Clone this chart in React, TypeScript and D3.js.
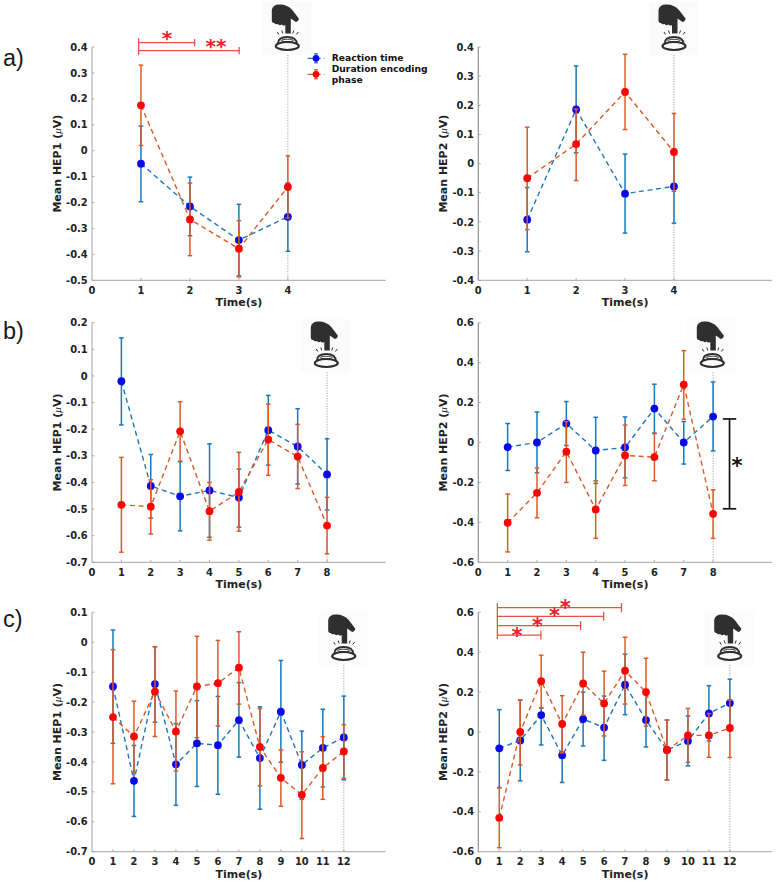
import React from "react";
import * as d3 from "d3";

// ---------- data (mean, upper whisker, lower whisker) ----------
const aLeftBlue = [-0.05, -0.215, -0.345, -0.255];
const aLeftBlueHi = [0.095, -0.102, -0.207, -0.125];
const aLeftBlueLo = [-0.197, -0.328, -0.483, -0.388];
const aLeftRed = [0.175, -0.265, -0.378, -0.14];
const aLeftRedHi = [0.33, -0.125, -0.27, -0.02];
const aLeftRedLo = [0.02, -0.405, -0.487, -0.26];

const aRightBlue = [-0.192, 0.186, -0.103, -0.078];
const aRightBlueHi = [-0.082, 0.335, 0.033, 0.05];
const aRightBlueLo = [-0.302, 0.037, -0.238, -0.204];
const aRightRed = [-0.05, 0.067, 0.246, 0.04];
const aRightRedHi = [0.125, 0.187, 0.375, 0.172];
const aRightRedLo = [-0.226, -0.058, 0.117, -0.095];

const bLeftBlue = [-0.02, -0.413, -0.452, -0.43, -0.457, -0.204, -0.265, -0.37];
const bLeftBlueHi = [0.143, -0.295, -0.322, -0.255, -0.35, -0.073, -0.123, -0.236];
const bLeftBlueLo = [-0.184, -0.534, -0.582, -0.606, -0.568, -0.335, -0.406, -0.504];
const bLeftRed = [-0.484, -0.491, -0.208, -0.508, -0.436, -0.239, -0.303, -0.562];
const bLeftRedHi = [-0.306, -0.39, -0.097, -0.4, -0.287, -0.106, -0.182, -0.456];
const bLeftRedLo = [-0.662, -0.594, -0.32, -0.617, -0.583, -0.373, -0.423, -0.668];

const bRightBlue = [-0.023, 0, 0.095, -0.04, -0.025, 0.17, 0, 0.13];
const bRightBlueHi = [0.095, 0.153, 0.205, 0.126, 0.128, 0.292, 0.105, 0.303];
const bRightBlueLo = [-0.14, -0.152, -0.015, -0.205, -0.177, 0.047, -0.108, -0.042];
const bRightRed = [-0.402, -0.252, -0.046, -0.335, -0.065, -0.073, 0.29, -0.357];
const bRightRedHi = [-0.258, -0.128, 0.105, -0.192, 0.087, 0.045, 0.46, -0.237];
const bRightRedLo = [-0.548, -0.377, -0.2, -0.48, -0.215, -0.192, 0.117, -0.48];

const cLeftBlue = [-0.148, -0.463, -0.14, -0.408, -0.338, -0.344, -0.26, -0.387, -0.232, -0.41, -0.353, -0.318];
const cLeftBlueHi = [0.041, -0.345, -0.015, -0.272, -0.195, -0.181, -0.135, -0.216, -0.061, -0.297, -0.224, -0.18];
const cLeftBlueLo = [-0.338, -0.582, -0.267, -0.545, -0.482, -0.508, -0.384, -0.558, -0.401, -0.525, -0.484, -0.46];
const cLeftRed = [-0.25, -0.315, -0.165, -0.298, -0.148, -0.137, -0.085, -0.35, -0.453, -0.51, -0.42, -0.365];
const cLeftRedHi = [-0.025, -0.197, -0.015, -0.163, 0.02, 0.006, 0.035, -0.222, -0.36, -0.366, -0.316, -0.276];
const cLeftRedLo = [-0.473, -0.435, -0.315, -0.43, -0.319, -0.28, -0.207, -0.48, -0.548, -0.656, -0.525, -0.455];

const cRightBlue = [-0.082, -0.042, 0.085, -0.117, 0.065, 0.022, 0.237, 0.06, -0.09, -0.045, 0.093, 0.145];
const cRightBlueHi = [0.112, 0.16, 0.12, 0.03, 0.2, 0.18, 0.39, 0.2, 0.06, 0.08, 0.232, 0.265];
const cRightBlueLo = [-0.278, -0.245, -0.065, -0.253, -0.07, -0.142, 0.087, -0.075, -0.24, -0.17, -0.045, 0.02];
const cRightRed = [-0.43, 0, 0.255, 0.04, 0.243, 0.143, 0.307, 0.2, -0.09, -0.017, -0.017, 0.02];
const cRightRedHi = [-0.28, 0.16, 0.385, 0.182, 0.4, 0.305, 0.475, 0.37, 0.06, 0.118, 0.092, 0.16];
const cRightRedLo = [-0.58, -0.165, 0.122, -0.105, 0.085, -0.02, 0.14, 0.03, -0.24, -0.152, -0.127, -0.128];

const legendLabels = ["Reaction time", "Duration encoding", "phase"];
const panelLetters = ["a)", "b)", "c)"];

// ---------- layout ----------
const BLUE_LINE = "#1b78bd";
const RED_LINE = "#dc5a28";
const BLUE_DOT = "#0a0ae6";
const RED_DOT = "#fb0505";
const BRACKET = "#e2553f";
const STAR = "#ee1c2e";
const TEXT = "#222222";
const AXIS = "#9a9a9a";
const FONT = "'DejaVu Sans', sans-serif";

type Series = { mean: number[]; hi: number[]; lo: number[] };
type Panel = {
  left: number; right: number; top: number; bottom: number;
  xMax: number; yMin: number; yMax: number; yStep: number; ylabel: string;
  blue: Series; red: Series; iconX: number; iconY: number;
};

const yTop = [47, 322.7, 612.3];
const yBot = [280.3, 562.3, 851.7];
const mk = (col: number, row: number, xMax: number, yMin: number, yMax: number, yStep: number, blue: Series, red: Series, iconX: number, iconY: number): Panel => ({
  left: col === 0 ? 92 : 478.3,
  right: col === 0 ? 385.8 : 771.8,
  top: yTop[row], bottom: yBot[row], xMax, yMin, yMax, yStep,
  ylabel: col === 0 ? "Mean HEP1 (" : "Mean HEP2 (",
  blue, red, iconX, iconY,
});

const panels: Panel[] = [
  mk(0, 0, 6, -0.5, 0.4, 0.1, { mean: aLeftBlue, hi: aLeftBlueHi, lo: aLeftBlueLo }, { mean: aLeftRed, hi: aLeftRedHi, lo: aLeftRedLo }, 287.3, 0),
  mk(1, 0, 6, -0.4, 0.4, 0.1, { mean: aRightBlue, hi: aRightBlueHi, lo: aRightBlueLo }, { mean: aRightRed, hi: aRightRedHi, lo: aRightRedLo }, 674, 0),
  mk(0, 1, 10, -0.7, 0.2, 0.1, { mean: bLeftBlue, hi: bLeftBlueHi, lo: bLeftBlueLo }, { mean: bLeftRed, hi: bLeftRedHi, lo: bLeftRedLo }, 326.3, 317),
  mk(1, 1, 10, -0.6, 0.6, 0.2, { mean: bRightBlue, hi: bRightBlueHi, lo: bRightBlueLo }, { mean: bRightRed, hi: bRightRedHi, lo: bRightRedLo }, 712.3, 317),
  mk(0, 2, 14, -0.7, 0.1, 0.1, { mean: cLeftBlue, hi: cLeftBlueHi, lo: cLeftBlueLo }, { mean: cLeftRed, hi: cLeftRedHi, lo: cLeftRedLo }, 343.7, 610),
  mk(1, 2, 14, -0.6, 0.6, 0.2, { mean: cRightBlue, hi: cRightBlueHi, lo: cRightBlueLo }, { mean: cRightRed, hi: cRightRedHi, lo: cRightRedLo }, 729.7, 610),
];

// significance brackets in data units: [xStart, xEnd, y]
const aLeftBrackets = [[0.953, 2.096, 0.4167], [0.953, 3.006, 0.386]];
const aLeftStars: [number, number, string][] = [[1.53, 0.446, "*"], [2.53, 0.417, "**"]];
const cRightBrackets = [[0.909, 6.83, 0.623], [0.909, 5.98, 0.58], [0.909, 4.88, 0.533], [0.909, 2.986, 0.486]];
const cRightStars: [number, number, string][] = [[4.15, 0.64, "*"], [3.64, 0.6, "*"], [2.82, 0.551, "*"], [1.84, 0.501, "*"]];

function Icon({ x, y }: { x: number; y: number }) {
  const dark = "#2f2f2f";
  return (
    <g transform={`translate(${x},${y})`}>
      <rect x={-25} y={2} width={49} height={53} fill="#fbfbfb" />
      <path
        d="M-15.5 21 L-15.5 10 Q-14.5 4 -7 4.5 Q0 4.5 5 10 L11.5 18.5 Q11.5 21 8.5 22 L3.5 18.5 L3.5 33.5 L-2 33.5 L-2 25 Q-4 26.5 -5.5 24.5 Q-8 26 -9.5 24 Q-12 25 -13 23 Q-15 23.5 -15.5 21 Z"
        fill={dark}
      />
      <g stroke={dark} strokeWidth={1} fill="none">
        <path d="M-10 32 L-8.5 34.5 M-5.5 30.5 L-4.5 33.5 M6.5 30.5 L5.5 33.5 M11 32 L9 34.5" />
      </g>
      <g stroke={dark} fill="none">
        <ellipse cx={0} cy={46} rx={11.5} ry={4} strokeWidth={2.2} />
        <path d="M-9.5 44 Q-9.5 37 0 37 Q9.5 37 9.5 44" strokeWidth={1.8} />
        <ellipse cx={0} cy={40.5} rx={6} ry={1.2} strokeWidth={0.9} />
      </g>
    </g>
  );
}

function Star({ x, y, s, fill, size = 21 }: { x: number; y: number; s: string; fill: string; size?: number }) {
  return (
    <text x={x} y={y + size * 0.52} textAnchor="middle" fontFamily={FONT} fontWeight="bold" fontSize={size} fill={fill}>
      {s}
    </text>
  );
}

function SeriesMarks({ s, x, y, line, dot }: { s: Series; x: (v: number) => number; y: d3.ScaleLinear<number, number>; line: string; dot: string }) {
  const path = d3.line<number>().x((_, i) => x(i + 1)).y((d) => y(d))(s.mean) ?? "";
  return (
    <g>
      <path d={path} fill="none" stroke={line} strokeWidth={1.4} strokeDasharray="5 3.6" />
      {s.mean.map((_, i) => {
        const px = x(i + 1);
        return (
          <g key={i} stroke={line} strokeWidth={1.5}>
            <line x1={px} x2={px} y1={y(s.hi[i])} y2={y(s.lo[i])} />
            <line x1={px - 2.3} x2={px + 2.3} y1={y(s.hi[i])} y2={y(s.hi[i])} />
            <line x1={px - 2.3} x2={px + 2.3} y1={y(s.lo[i])} y2={y(s.lo[i])} />
          </g>
        );
      })}
      {s.mean.map((m, i) => (
        <circle key={i} cx={x(i + 1)} cy={y(m)} r={3.9} fill={dot} />
      ))}
    </g>
  );
}

function PanelView({ p, index }: { p: Panel; index: number }) {
  const x = d3.scaleLinear().domain([0, p.xMax]).range([p.left, p.right]);
  const y = d3.scaleLinear().domain([p.yMin, p.yMax]).range([p.bottom, p.top]);
  const n = p.blue.mean.length;
  const yTicks = d3.range(Math.round((p.yMax - p.yMin) / p.yStep) + 1).map((i) => +(p.yMin + i * p.yStep).toFixed(1));
  const xTicks = d3.range(0, n + 1);
  const fmt = (v: number) => (v === 0 ? "0" : v.toFixed(1));
  const midX = (p.left + p.right) / 2;
  const midY = (p.top + p.bottom) / 2;
  const lastX = x(n);
  return (
    <g>
      <Icon x={p.iconX} y={p.iconY} />
      <line x1={lastX} x2={lastX} y1={p.iconY + 55} y2={p.bottom} stroke="#8c8c8c" strokeWidth={0.8} strokeDasharray="1.2 1.4" />
      <line x1={p.left} x2={p.left} y1={p.top} y2={p.bottom} stroke={AXIS} strokeWidth={index % 2 ? 1.3 : 0.9} />
      <line x1={p.left} x2={p.right} y1={p.bottom} y2={p.bottom} stroke={AXIS} strokeWidth={0.9} />
      {yTicks.map((t) => (
        <g key={t}>
          <line x1={p.left} x2={p.left + 2.5} y1={y(t)} y2={y(t)} stroke={AXIS} strokeWidth={0.8} />
          <text x={p.left - 4.3} y={y(t) + 3.6} textAnchor="end" fontFamily={FONT} fontWeight="bold" fontSize={9.9} fill={TEXT}>
            {fmt(t)}
          </text>
        </g>
      ))}
      {xTicks.map((t) => (
        <g key={t}>
          {t > 0 && <line x1={x(t)} x2={x(t)} y1={p.bottom} y2={p.bottom - 2.5} stroke={AXIS} strokeWidth={0.8} />}
          <text x={x(t)} y={p.bottom + 13.5} textAnchor="middle" fontFamily={FONT} fontWeight="bold" fontSize={9.9} fill={TEXT}>
            {t}
          </text>
        </g>
      ))}
      <text x={midX} y={p.bottom + 26} textAnchor="middle" fontFamily={FONT} fontWeight="bold" fontSize={11} fill={TEXT}>
        Time(s)
      </text>
      <text
        transform={`translate(${p.left - 31},${midY}) rotate(-90)`}
        textAnchor="middle"
        fontFamily={FONT}
        fontWeight="bold"
        fontSize={11}
        fill={TEXT}
      >
        {p.ylabel}
        <tspan fontFamily="'Liberation Serif', serif" fontStyle="italic" fontWeight="normal">μ</tspan>
        V)
      </text>
      <SeriesMarks s={p.blue} x={x} y={y} line={BLUE_LINE} dot={BLUE_DOT} />
      <SeriesMarks s={p.red} x={x} y={y} line={RED_LINE} dot={RED_DOT} />
      {index === 0 && (
        <g stroke={BRACKET} strokeWidth={1.3}>
          <line x1={x(0.953)} x2={x(0.953)} y1={y(0.4335)} y2={y(0.369)} />
          {aLeftBrackets.map(([a, b, v], i) => (
            <g key={i}>
              <line x1={x(a)} x2={x(b)} y1={y(v)} y2={y(v)} />
              <line x1={x(b)} x2={x(b)} y1={y(v) - 3.7} y2={y(v) + 3.7} />
            </g>
          ))}
        </g>
      )}
      {index === 0 && aLeftStars.map(([a, v, s], i) => <Star key={i} x={x(a)} y={y(v)} s={s} fill={STAR} size={20} />)}
      {index === 0 && (
        <g>
          {[0, 1].map((i) => {
            const color = i === 0 ? BLUE_LINE : RED_LINE;
            const ly = i === 0 ? 58.3 : 74.3;
            return (
              <g key={i}>
                <line x1={307.7} x2={324.3} y1={ly} y2={ly} stroke={color} strokeWidth={1.35} strokeDasharray="5 3" />
                <line x1={316} x2={316} y1={ly - 4.5} y2={ly + 4.5} stroke={color} strokeWidth={1.35} />
                <line x1={314} x2={318} y1={ly - 4.5} y2={ly - 4.5} stroke={color} strokeWidth={1.2} />
                <line x1={314} x2={318} y1={ly + 4.5} y2={ly + 4.5} stroke={color} strokeWidth={1.2} />
                <circle cx={316} cy={ly} r={3.4} fill={i === 0 ? BLUE_DOT : RED_DOT} />
              </g>
            );
          })}
          {legendLabels.map((l, i) => (
            <text key={l} x={331.7} y={[61, 72.3, 82.7][i]} fontFamily={FONT} fontWeight="bold" fontSize={9.2} fill="#111">
              {l}
            </text>
          ))}
        </g>
      )}
      {index === 3 && (
        <g stroke="#111" strokeWidth={1.7}>
          <line x1={x(8.56)} x2={x(8.56)} y1={y(0.118)} y2={y(-0.332)} />
          <line x1={x(8.56) - 6.7} x2={x(8.56) + 6.7} y1={y(0.118)} y2={y(0.118)} />
          <line x1={x(8.56) - 6.7} x2={x(8.56) + 6.7} y1={y(-0.332)} y2={y(-0.332)} />
        </g>
      )}
      {index === 3 && <Star x={x(8.81)} y={y(-0.098)} s="*" fill="#111" />}
      {index === 5 && (
        <g stroke={BRACKET} strokeWidth={1.3}>
          <line x1={x(0.909)} x2={x(0.909)} y1={y(0.645)} y2={y(0.466)} />
          {cRightBrackets.map(([a, b, v], i) => (
            <g key={i}>
              <line x1={x(a)} x2={x(b)} y1={y(v)} y2={y(v)} />
              <line x1={x(b)} x2={x(b)} y1={y(v) - 4.5} y2={y(v) + 4.5} />
            </g>
          ))}
        </g>
      )}
      {index === 5 && cRightStars.map(([a, v, s], i) => <Star key={i} x={x(a)} y={y(v)} s={s} fill={STAR} />)}
    </g>
  );
}

export default function App() {
  return (
    <svg width={777} height={885} viewBox="0 0 777 885" style={{ position: "absolute", left: 0, top: 0, background: "#fff" }}>
      {panels.map((p, i) => (
        <PanelView key={i} p={p} index={i} />
      ))}
      {panelLetters.map((l, i) => (
        <text key={l} x={3} y={[65.5, 339, 627][i]} fontFamily="'Liberation Sans', sans-serif" fontSize={23.5} fill="#1a1a1a">
          {l}
        </text>
      ))}
    </svg>
  );
}
